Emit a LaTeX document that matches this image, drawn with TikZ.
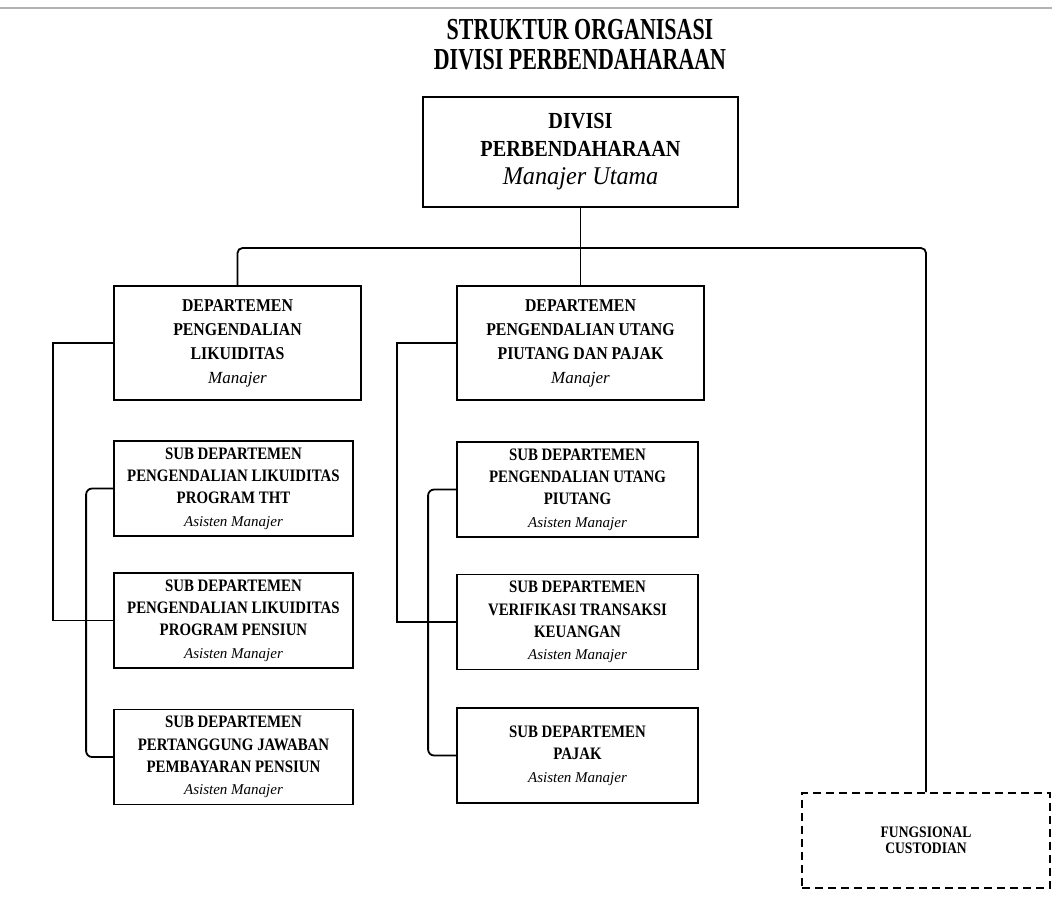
\documentclass[tikz,border=0pt]{standalone}
\usepackage{fontspec}
\setmainfont{Liberation Serif}
\newfontfamily\condT[FakeStretch=0.72]{Liberation Serif}
\newfontfamily\condD[FakeStretch=0.88]{Liberation Serif}
\newfontfamily\condS[FakeStretch=0.85]{Liberation Serif}
\newfontfamily\condI[FakeStretch=0.95]{Liberation Serif}
\begin{document}
\begin{tikzpicture}[x=1pt,y=-1pt,
  box/.style={draw, line width=1.8pt, align=center, inner sep=0pt},
  topbox/.style={box, minimum width=315pt, minimum height=110pt, font=\condD\fontsize{23}{28}\selectfont},
  deptbox/.style={box, minimum width=247pt, minimum height=114pt, font=\condD\fontsize{18}{24}\selectfont},
  subbox/.style={box, minimum width=239pt, minimum height=95pt, font=\condS\fontsize{17.5}{22.3}\selectfont},
  funcbox/.style={box, dashed, dash pattern=on 8pt off 5pt, minimum width=248pt, minimum height=95pt, font=\condS\fontsize{16}{16}\selectfont},
  conn/.style={line width=1.8pt}]
\useasboundingbox (0,0) rectangle (1052,903);
\fill[white] (0,0) rectangle (1052,903);
\draw[gray!60, line width=2pt] (0,8) -- (1052,8);

\node[align=center, font=\condT\bfseries\fontsize{30.5}{30}\selectfont] (title) at (580,45) {STRUKTUR ORGANISASI\\DIVISI PERBENDAHARAAN};

\node[topbox] (top) at (580.5,152) {\bfseries DIVISI\\\bfseries PERBENDAHARAAN\\{\condI\itshape\fontsize{25.5}{28}\selectfont Manajer Utama}};

\node[deptbox] (A) at (237.5,343) {\bfseries DEPARTEMEN\\\bfseries PENGENDALIAN\\\bfseries LIKUIDITAS\\{\normalfont\itshape\fontsize{17}{24}\selectfont Manajer}};
\node[deptbox] (E) at (580.5,343) {\bfseries DEPARTEMEN\\\bfseries PENGENDALIAN UTANG\\\bfseries PIUTANG DAN PAJAK\\{\normalfont\itshape\fontsize{17}{24}\selectfont Manajer}};

\node[subbox] (B) at (233.5,488.5) {\bfseries SUB DEPARTEMEN\\\bfseries PENGENDALIAN LIKUIDITAS\\\bfseries PROGRAM THT\\{\normalfont\itshape\fontsize{15}{22.3}\selectfont Asisten Manajer}};
\node[subbox] (C) at (233.5,620.5) {\bfseries SUB DEPARTEMEN\\\bfseries PENGENDALIAN LIKUIDITAS\\\bfseries PROGRAM PENSIUN\\{\normalfont\itshape\fontsize{15}{22.3}\selectfont Asisten Manajer}};
\node[subbox] (D) at (233.5,757) {\bfseries SUB DEPARTEMEN\\\bfseries PERTANGGUNG JAWABAN\\\bfseries PEMBAYARAN PENSIUN\\{\normalfont\itshape\fontsize{15}{22.3}\selectfont Asisten Manajer}};

\node[subbox, minimum width=241pt] (F) at (577.5,489.5) {\bfseries SUB DEPARTEMEN\\\bfseries PENGENDALIAN UTANG\\\bfseries PIUTANG\\{\normalfont\itshape\fontsize{15}{22.3}\selectfont Asisten Manajer}};
\node[subbox, minimum width=241pt] (G) at (577.5,622) {\bfseries SUB DEPARTEMEN\\\bfseries VERIFIKASI TRANSAKSI\\\bfseries KEUANGAN\\{\normalfont\itshape\fontsize{15}{22.3}\selectfont Asisten Manajer}};
\node[subbox, minimum width=241pt] (H) at (577.5,755.5) {\bfseries SUB DEPARTEMEN\\\bfseries PAJAK\\{\normalfont\itshape\fontsize{15}{20}\selectfont Asisten Manajer}};

\node[funcbox] (fung) at (926,840.5) {\bfseries FUNGSIONAL\\\bfseries CUSTODIAN};

\coordinate (hub) at (580.5,248);
\draw[conn] (top.south) -- (E.north);
\draw[conn, rounded corners=5pt] (A.north) |- (hub) -| (fung.north);

\draw[conn] (A.west) -- ++(-60,0) |- (C.west);
\draw[conn, rounded corners=6pt] (B.west) -- ++(-27,0) |- (D.west);
\draw[conn] (E.west) -- ++(-59,0) |- (G.west);
\draw[conn, rounded corners=6pt] (F.west) -- ++(-28,0) |- (H.west);
\end{tikzpicture}
\end{document}
